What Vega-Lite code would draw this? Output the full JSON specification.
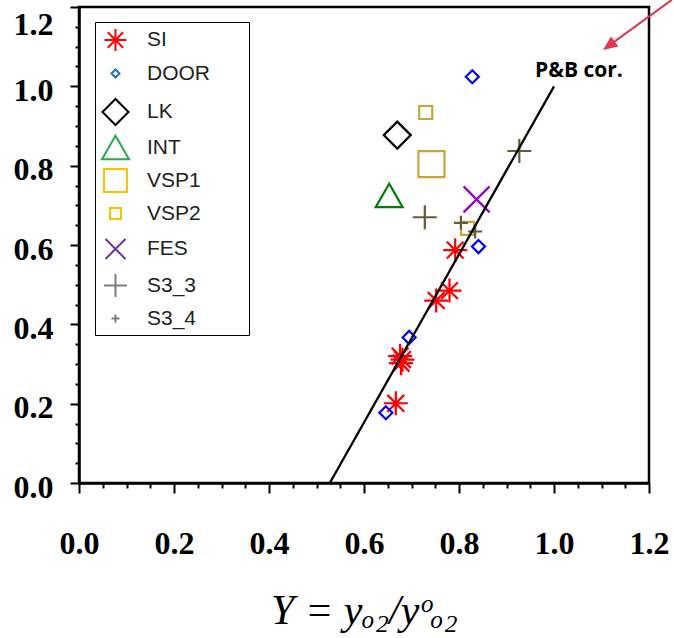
{
  "$schema": "https://vega.github.io/schema/vega-lite/v6.json",
  "width": 570,
  "height": 476,
  "autosize": "none",
  "padding": {"left": 79, "top": 7, "right": 25, "bottom": 155},
  "background": "white",
  "config": {
    "view": {"stroke": "black", "strokeWidth": 2.5},
    "axis": {
      "grid": false,
      "domainColor": "black",
      "domainWidth": 2.5,
      "tickColor": "black",
      "tickWidth": 2,
      "labelFont": "Liberation Serif",
      "labelFontWeight": "bold",
      "labelFontSize": 32,
      "labelColor": "black",
      "labelFlush": false,
      "labelOverlap": false,
      "labelBound": false
    },
    "legend": {
      "orient": "none",
      "legendX": 16,
      "legendY": 15,
      "padding": 6,
      "strokeColor": "black",
      "fillColor": "white",
      "labelFont": "Liberation Sans",
      "labelFontSize": 21,
      "labelColor": "#222222",
      "labelOffset": 17,
      "gridAlign": "all",
      "rowPadding": 1,
      "symbolStrokeWidth": 2,
      "symbolOpacity": 1,
      "titleOrient": "right",
      "titleFontSize": 20,
      "titlePadding": 33
    }
  },
  "datasets": {
    "points": [
      {"series": "SI", "Y": 0.792, "value": 0.587},
      {"series": "SI", "Y": 0.780, "value": 0.485},
      {"series": "SI", "Y": 0.752, "value": 0.460},
      {"series": "SI", "Y": 0.676, "value": 0.320},
      {"series": "SI", "Y": 0.681, "value": 0.311},
      {"series": "SI", "Y": 0.678, "value": 0.302},
      {"series": "SI", "Y": 0.667, "value": 0.201},
      {"series": "DOOR", "Y": 0.828, "value": 1.024},
      {"series": "DOOR", "Y": 0.841, "value": 0.596},
      {"series": "DOOR", "Y": 0.695, "value": 0.367},
      {"series": "DOOR", "Y": 0.646, "value": 0.177},
      {"series": "LK", "Y": 0.670, "value": 0.877},
      {"series": "INT", "Y": 0.653, "value": 0.725},
      {"series": "VSP1", "Y": 0.742, "value": 0.804},
      {"series": "VSP2", "Y": 0.730, "value": 0.934},
      {"series": "VSP2", "Y": 0.818, "value": 0.642},
      {"series": "FES", "Y": 0.837, "value": 0.715},
      {"series": "S3_3", "Y": 0.728, "value": 0.670},
      {"series": "S3_3", "Y": 0.927, "value": 0.837},
      {"series": "S3_4", "Y": 0.804, "value": 0.656},
      {"series": "S3_4", "Y": 0.834, "value": 0.634}
    ],
    "correlation": [
      {"Y": 0.528, "value": 0.0, "label": ""},
      {"Y": 1.0, "value": 1.0, "label": "P&B cor."}
    ],
    "pointer": [
      {"Y": 1.248, "value": 1.218, "end": "tail"},
      {"Y": 1.1185, "value": 1.105, "end": "head"}
    ]
  },
  "encoding": {
    "x": {
      "field": "Y",
      "type": "quantitative",
      "scale": {"domain": [0, 1.2], "nice": false, "zero": false},
      "axis": {
        "values": [0, 0.05, 0.1, 0.15, 0.2, 0.25, 0.3, 0.35, 0.4, 0.45, 0.5, 0.55, 0.6, 0.65, 0.7, 0.75, 0.8, 0.85, 0.9, 0.95, 1.0, 1.05, 1.1, 1.15, 1.2],
        "labelExpr": "abs(datum.value * 5 - round(datum.value * 5)) < 1e-6 ? format(datum.value, '.1f') : ''",
        "tickSize": {"condition": {"test": "abs(datum.value * 5 - round(datum.value * 5)) < 1e-6", "value": 10}, "value": 5},
        "labelPadding": 35,
        "title": "Y = yₒ₂/yᵒₒ₂",
        "titleFont": "Liberation Serif",
        "titleFontStyle": "italic",
        "titleFontWeight": "normal",
        "titleFontSize": 42,
        "titleColor": "black",
        "titlePadding": 31
      }
    },
    "y": {
      "field": "value",
      "type": "quantitative",
      "scale": {"domain": [0, 1.2], "nice": false, "zero": false},
      "axis": {
        "values": [0, 0.05, 0.1, 0.15, 0.2, 0.25, 0.3, 0.35, 0.4, 0.45, 0.5, 0.55, 0.6, 0.65, 0.7, 0.75, 0.8, 0.85, 0.9, 0.95, 1.0, 1.05, 1.1, 1.15, 1.2],
        "labelExpr": "abs(datum.value * 5 - round(datum.value * 5)) < 1e-6 ? format(datum.value, '.1f') : ''",
        "tickSize": {"condition": {"test": "abs(datum.value * 5 - round(datum.value * 5)) < 1e-6", "value": 9}, "value": 4},
        "labelOffset": {"condition": {"test": "datum.value > 1.19", "value": 17}, "value": 4},
        "labelPadding": 17,
        "title": null
      }
    }
  },
  "layer": [
    {
      "data": {"name": "points"},
      "transform": [{"filter": "false"}],
      "mark": {"type": "point", "filled": false, "opacity": 1, "strokeWidth": 2},
      "encoding": {
        "shape": {
          "field": "series", "type": "nominal",
          "scale": {
            "domain": ["SI", "DOOR", "LK", "INT", "VSP1", "VSP2", "FES", "S3_3", "S3_4"],
            "range": [
              "M-1,0L1,0M0,-1L0,1M-0.7,-0.7L0.7,0.7M-0.7,0.7L0.7,-0.7",
              "diamond", "diamond", "triangle-up", "square", "square",
              "M-1,-1L1,1M-1,1L1,-1",
              "M-1,0L1,0M0,-1L0,1",
              "M-1,0L1,0M0,-1L0,1"
            ]
          },
          "legend": {"title": " "}
        },
        "stroke": {
          "field": "series", "type": "nominal",
          "scale": {
            "domain": ["SI", "DOOR", "LK", "INT", "VSP1", "VSP2", "FES", "S3_3", "S3_4"],
            "range": ["#ff0000", "#1f78c8", "#000000", "#2aa84a", "#ffc000", "#ffc000", "#7030a0", "#7f7f7f", "#7f7f7f"]
          },
          "legend": {"title": " "}
        },
        "size": {
          "field": "series", "type": "nominal",
          "scale": {
            "type": "ordinal",
            "domain": ["SI", "DOOR", "LK", "INT", "VSP1", "VSP2", "FES", "S3_3", "S3_4"],
            "range": [484, 64, 676, 729, 529, 121, 400, 529, 64]
          },
          "legend": {"title": " "}
        }
      }
    },
    {
      "data": {"name": "points"},
      "mark": {"type": "point", "filled": false, "opacity": 1, "strokeWidth": 2.2},
      "encoding": {
        "shape": {
          "field": "series", "type": "nominal",
          "scale": {
            "domain": ["SI", "DOOR", "LK", "INT", "VSP1", "VSP2", "FES", "S3_3", "S3_4"],
            "range": [
              "M-1,0L1,0M0,-1L0,1M-0.7,-0.7L0.7,0.7M-0.7,0.7L0.7,-0.7",
              "diamond", "diamond", "triangle-up", "square", "square",
              "M-1,-1L1,1M-1,1L1,-1",
              "M-1,0L1,0M0,-1L0,1",
              "M-1,0L1,0M0,-1L0,1"
            ]
          },
          "legend": null
        },
        "stroke": {
          "field": "series", "type": "nominal",
          "scale": {
            "domain": ["SI", "DOOR", "LK", "INT", "VSP1", "VSP2", "FES", "S3_3", "S3_4"],
            "range": ["#ff0000", "#0000ff", "#000000", "#008000", "#c9a43a", "#c9a43a", "#9400d3", "#5f5f36", "#5f5f36"]
          },
          "legend": null
        },
        "size": {
          "field": "series", "type": "nominal",
          "scale": {
            "type": "ordinal",
            "domain": ["SI", "DOOR", "LK", "INT", "VSP1", "VSP2", "FES", "S3_3", "S3_4"],
            "range": [576, 169, 729, 729, 676, 169, 676, 576, 196]
          },
          "legend": null
        }
      }
    },
    {
      "data": {"name": "correlation"},
      "mark": {"type": "line", "color": "black", "strokeWidth": 2.3},
      "encoding": {}
    },
    {
      "data": {"name": "correlation"},
      "transform": [{"filter": "datum.label != ''"}],
      "mark": {"type": "text", "align": "left", "baseline": "middle", "dx": -19, "dy": -15, "font": "Open Sans", "fontWeight": "bold", "fontSize": 21, "color": "black"},
      "encoding": {"text": {"field": "label"}}
    },
    {
      "data": {"name": "pointer"},
      "mark": {"type": "line", "color": "#e0384e", "strokeWidth": 2},
      "encoding": {}
    },
    {
      "data": {"name": "pointer"},
      "transform": [{"filter": "datum.end == 'head'"}],
      "mark": {"type": "point", "shape": "M0,-1L-0.7,0.6L0.7,0.6Z", "filled": true, "opacity": 1, "color": "#e0384e", "size": 324, "angle": 234},
      "encoding": {}
    }
  ],
  "resolve": {"scale": {"shape": "independent", "stroke": "independent", "size": "independent"}}
}
